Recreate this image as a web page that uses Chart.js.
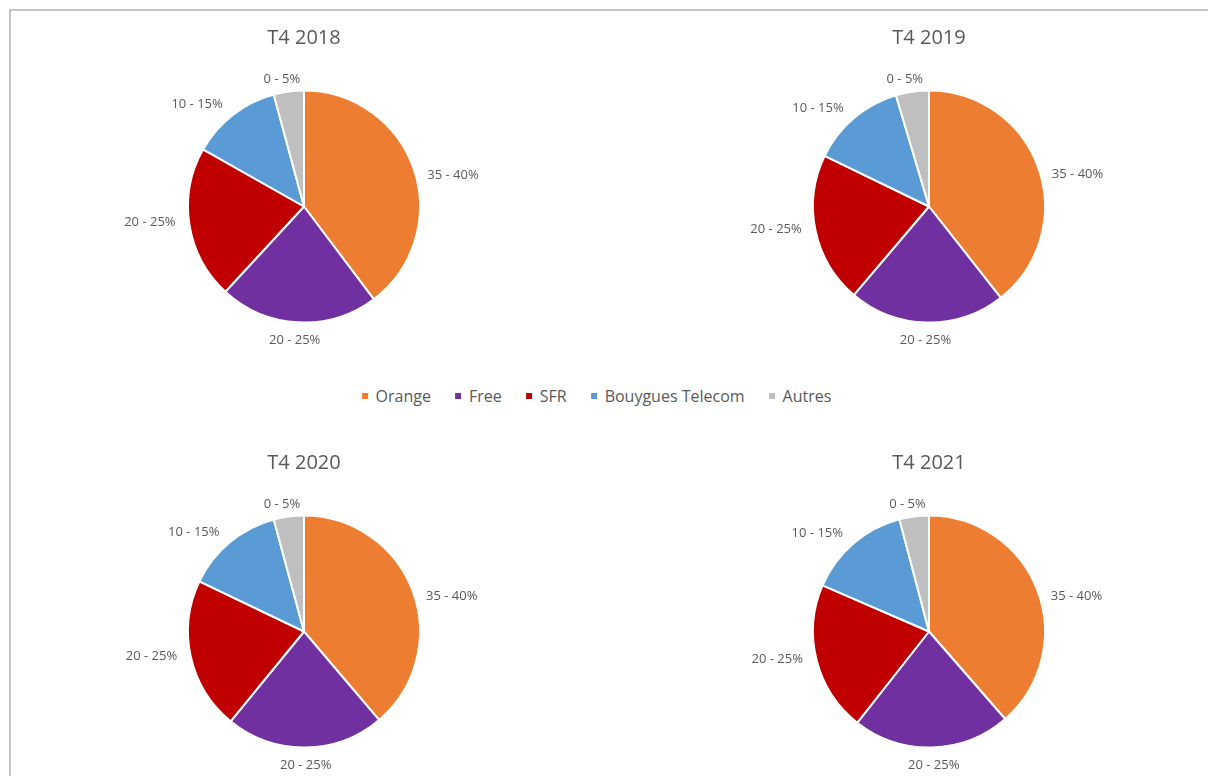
<!DOCTYPE html>
<html>
<head>
<meta charset="utf-8">
<script src="https://cdn.jsdelivr.net/npm/chart.js@4/dist/chart.umd.min.js"></script>
<style>
  html, body { margin: 0; padding: 0; background: #ffffff; }
  #stage { position: relative; width: 1208px; height: 776px; overflow: hidden; background: #fff; }
  #frame { position: absolute; left: 9px; top: 9px; width: 1400px; height: 1000px;
           border-left: 2px solid #c6c6c6; border-top: 2px solid #c6c6c6; box-sizing: border-box; }
  canvas { position: absolute; }
  #legend { position: absolute; top: 386px; left: 596.5px; transform: translateX(-50%);
            display: flex; align-items: center; white-space: nowrap;
            font-family: "Open Sans", sans-serif; font-size: 16px; line-height: 20px; color: #595959; }
  #legend .item { display: flex; align-items: center; margin-right: 24px; }
  #legend .item:last-child { margin-right: 0; }
  #legend .sw { width: 6px; height: 6px; margin-right: 8px; display: inline-block; }
</style>
</head>
<body>
<div id="stage">
  <div id="frame"></div>
  <canvas id="c2018" width="480" height="341" style="left:63.5px; top:10px;"></canvas>
  <canvas id="c2019" width="480" height="341" style="left:689px; top:10px;"></canvas>
  <canvas id="c2020" width="480" height="341" style="left:63.5px; top:435px;"></canvas>
  <canvas id="c2021" width="480" height="341" style="left:689px; top:435px;"></canvas>
  <div id="legend"></div>
</div>
<script>
// ---- Data ----
const categories = ["Orange", "Free", "SFR", "Bouygues Telecom", "Autres"];
const colors = ["#ED7D31", "#7030A0", "#C00000", "#5B9BD5", "#BFBFBF"];
const titles = ["T4 2018", "T4 2019", "T4 2020", "T4 2021"];
const share2018 = [39.7, 22.1, 21.3, 12.6, 4.2];
const share2019 = [39.4, 21.8, 21.0, 13.2, 4.6];
const share2020 = [38.8, 22.1, 21.2, 13.7, 4.2];
const share2021 = [38.6, 22.0, 20.9, 14.4, 4.1];
const rangeLabels = ["35 - 40%", "20 - 25%", "20 - 25%", "10 - 15%", "0 - 5%"];

// ---- Outside-end data labels plugin (placed from each arc's geometry) ----
const rangeLabelPlugin = {
  id: 'rangeLabels',
  afterDatasetsDraw(chart, args, opts) {
    const ctx = chart.ctx;
    const meta = chart.getDatasetMeta(0);
    ctx.save();
    ctx.font = '13px "Open Sans"';
    ctx.fillStyle = '#595959';
    ctx.textAlign = 'center';
    ctx.textBaseline = 'middle';
    meta.data.forEach((arc, i) => {
      const p = arc.getProps(['x', 'y', 'startAngle', 'endAngle', 'outerRadius'], true);
      const mid = (p.startAngle + p.endAngle) / 2;
      const dx = Math.cos(mid), dy = Math.sin(mid);
      const text = opts.labels[i];
      const hw = ctx.measureText(text).width / 2, hh = 7;
      let x, y;
      if (Math.abs(dx) >= Math.abs(dy)) {
        // side label: box edge attached to anchor horizontally, nudged toward the horizontal axis
        const r = p.outerRadius + opts.sideGap;
        x = p.x + dx * r + Math.sign(dx) * hw;
        y = p.y + dy * r - Math.sign(dy) * Math.min(1, Math.abs(dy) / 0.1) * hh;
      } else {
        // top / bottom label
        const r = p.outerRadius + opts.topGap;
        const sx = Math.max(-1, Math.min(1, dx / 0.5));
        x = p.x + dx * r + sx * hw * 1.2;
        y = p.y + dy * r + Math.sign(dy) * hh;
      }
      ctx.fillText(text, x, y + opts.shiftY);
    });
    ctx.restore();
  }
};

function makePie(id, title, values) {
  return new Chart(document.getElementById(id), {
    type: 'pie',
    data: {
      labels: categories,
      datasets: [{ data: values, backgroundColor: colors, borderColor: '#ffffff', borderWidth: 2 }]
    },
    options: {
      responsive: false,
      animation: false,
      radius: 116,
      layout: { padding: { top: 0, left: 123, right: 123, bottom: 27.5 } },
      plugins: {
        legend: { display: false },
        tooltip: { enabled: false },
        title: {
          display: true, text: title, color: '#595959',
          font: { family: '"Open Sans"', size: 20, weight: 'normal', lineHeight: 1.2 },
          padding: { top: 16.7, bottom: 38.8 }
        },
        rangeLabels: { labels: rangeLabels, sideGap: 14, topGap: 8, shiftY: 3 }
      }
    },
    plugins: [rangeLabelPlugin]
  });
}

makePie('c2018', titles[0], share2018);
makePie('c2019', titles[1], share2019);
makePie('c2020', titles[2], share2020);
makePie('c2021', titles[3], share2021);

// ---- Legend (built from the same arrays) ----
const legend = document.getElementById('legend');
categories.forEach((name, i) => {
  const item = document.createElement('span');
  item.className = 'item';
  const sw = document.createElement('span');
  sw.className = 'sw';
  sw.style.background = colors[i];
  const txt = document.createElement('span');
  txt.textContent = name;
  item.appendChild(sw);
  item.appendChild(txt);
  legend.appendChild(item);
});
</script>
</body>
</html>
